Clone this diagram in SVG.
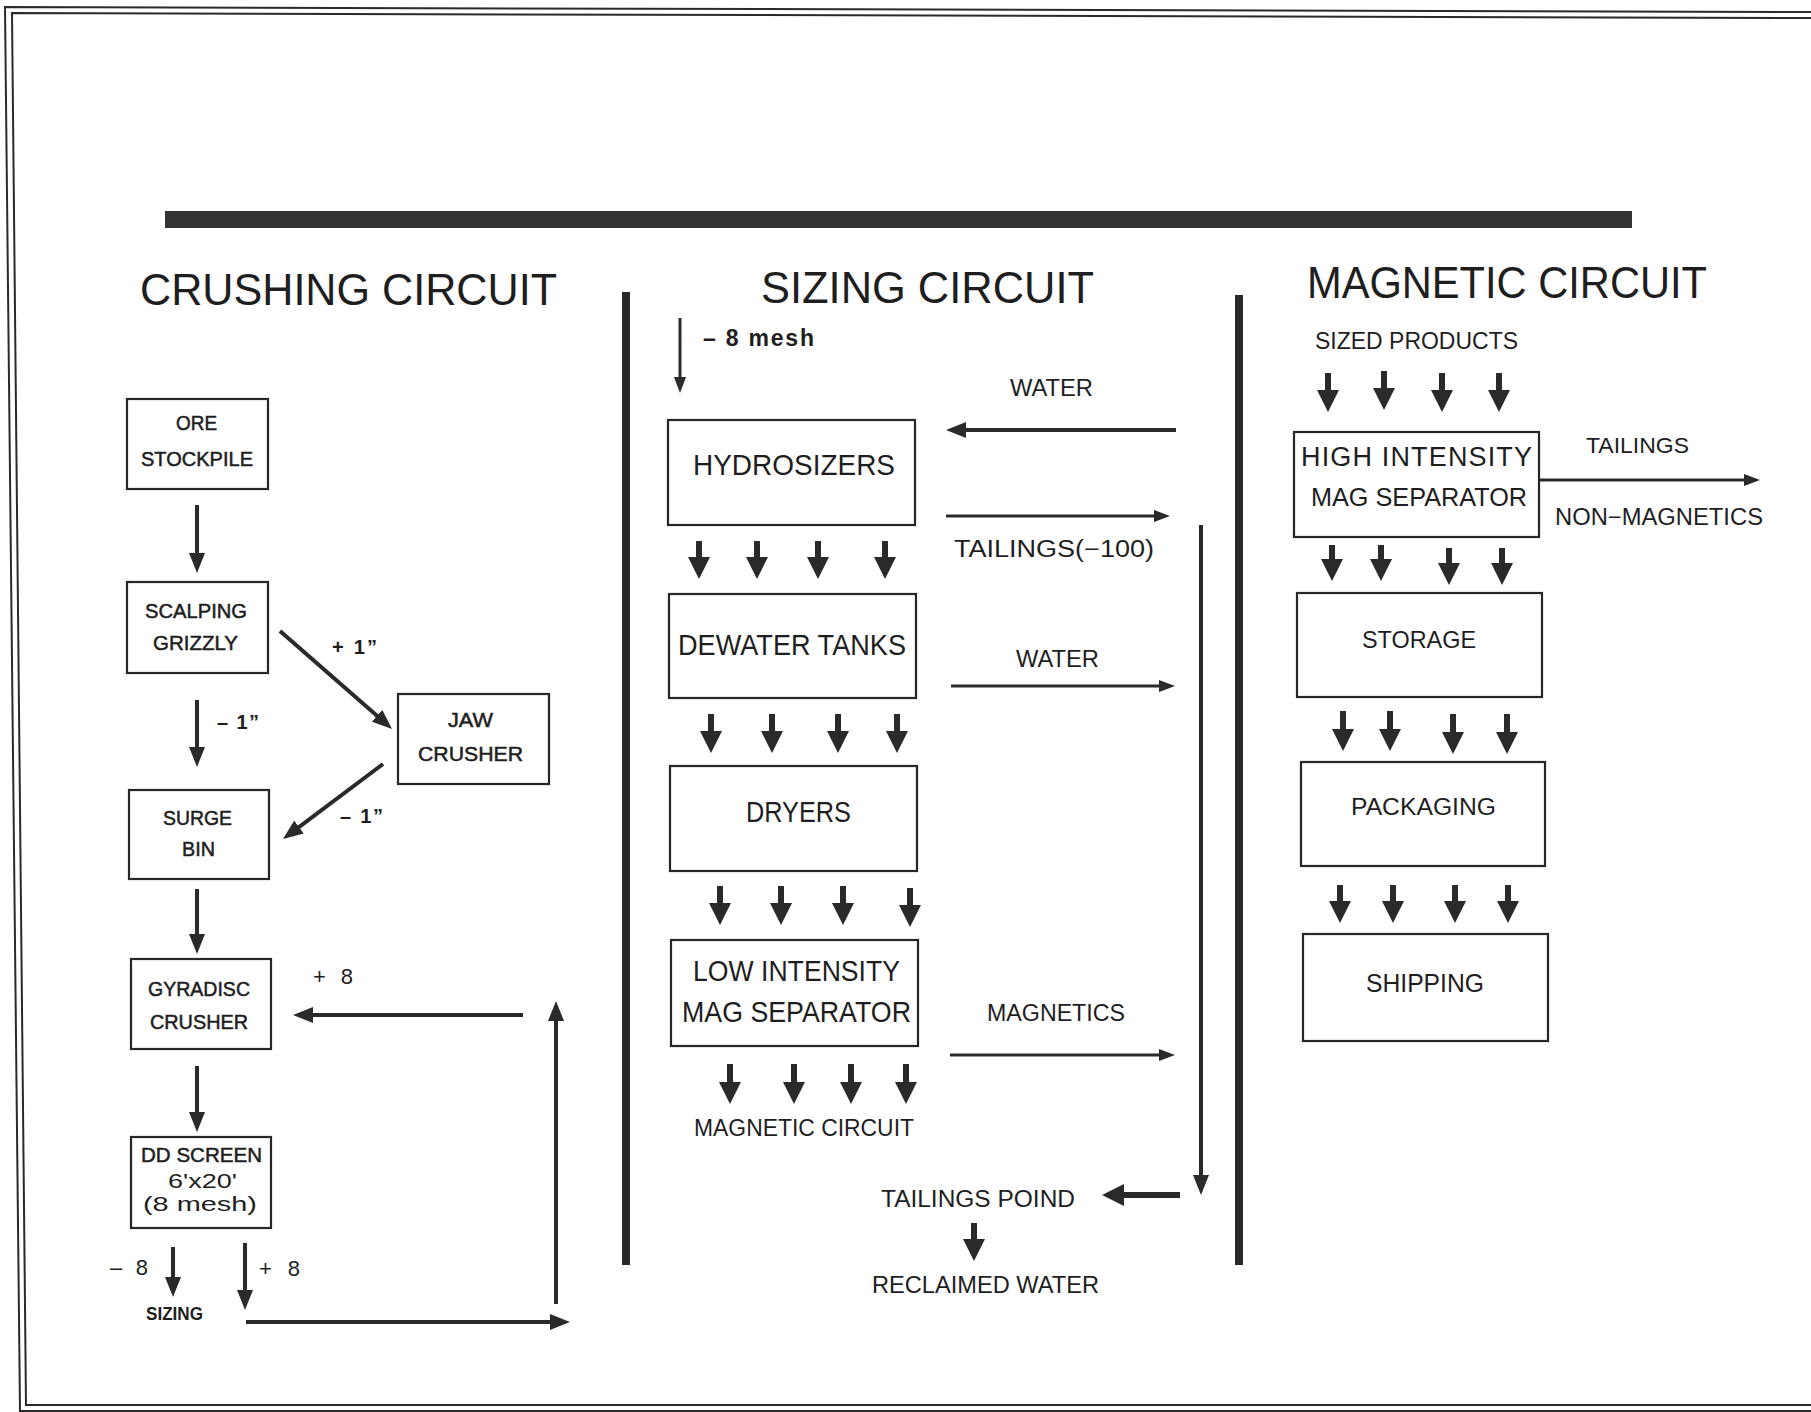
<svg xmlns="http://www.w3.org/2000/svg" width="1811" height="1412" viewBox="0 0 1811 1412">
<style>
text{font-family:"Liberation Sans",Arial,sans-serif;fill:#1e1e1e}
.ttl{font-size:44px}
.lg{font-size:29px}
.md{font-size:23px}
.sm{font-size:20px;stroke:#1e1e1e;stroke-width:0.5}
.lb{font-size:20px;font-weight:bold}
.box{fill:none;stroke:#262626;stroke-width:2.2}
.fr{fill:none;stroke:#2a2a2a;stroke-width:2}
.a{stroke:#2a2a2a;stroke-width:4;fill:none;marker-end:url(#ma)}
.t{stroke:#2a2a2a;stroke-width:3;fill:none;marker-end:url(#mt)}
.b{stroke:#2a2a2a;stroke-width:6;fill:none;marker-end:url(#mb)}
.div{stroke:#2a2a2a;stroke-width:8}
</style>
<defs>
<marker id="ma" markerUnits="userSpaceOnUse" viewBox="0 0 20 16" markerWidth="20" markerHeight="16" refX="8" refY="8" orient="auto"><path d="M0,0 L20,8 L0,16 z" fill="#2a2a2a"/></marker>
<marker id="mt" markerUnits="userSpaceOnUse" viewBox="0 0 16 12" markerWidth="16" markerHeight="12" refX="6" refY="6" orient="auto"><path d="M0,0 L16,6 L0,12 z" fill="#2a2a2a"/></marker>
<marker id="mb" markerUnits="userSpaceOnUse" viewBox="0 0 22 22" markerWidth="22" markerHeight="22" refX="8" refY="11" orient="auto"><path d="M0,0 L22,11 L0,22 z" fill="#2a2a2a"/></marker>
</defs>
<rect width="1811" height="1412" fill="#ffffff"/>
<g id="frame">
<polyline class="fr" points="1811,12 5,7 20,1411 1811,1411"/>
<polyline class="fr" points="1811,18 12,13 26,1405 1811,1405"/>
<rect x="165" y="211" width="1467" height="17" fill="#333333"/>
<line class="div" x1="626" y1="292" x2="626" y2="1265"/>
<line class="div" x1="1239" y1="295" x2="1239" y2="1265"/>
</g>
<g id="titles">
<text class="ttl" x="140" y="305" textLength="417" lengthAdjust="spacingAndGlyphs">CRUSHING  CIRCUIT</text>
<text class="ttl" x="761" y="303" textLength="333" lengthAdjust="spacingAndGlyphs">SIZING  CIRCUIT</text>
<text class="ttl" x="1307" y="298" textLength="400" lengthAdjust="spacingAndGlyphs">MAGNETIC  CIRCUIT</text>
</g>
<g id="ore-stockpile"><rect class="box" x="127" y="399" width="141" height="90"/>
<text class="sm" x="176" y="430" textLength="41" lengthAdjust="spacingAndGlyphs">ORE</text>
<text class="sm" x="141" y="466" textLength="112" lengthAdjust="spacingAndGlyphs">STOCKPILE</text></g>
<g id="scalping-grizzly"><rect class="box" x="127" y="582" width="141" height="91"/>
<text class="sm" x="145" y="618" textLength="102" lengthAdjust="spacingAndGlyphs">SCALPING</text>
<text class="sm" x="153" y="650" textLength="85" lengthAdjust="spacingAndGlyphs">GRIZZLY</text></g>
<g id="jaw-crusher"><rect class="box" x="398" y="694" width="151" height="90"/>
<text class="sm" x="448" y="727" textLength="45" lengthAdjust="spacingAndGlyphs">JAW</text>
<text class="sm" x="418" y="761" textLength="105" lengthAdjust="spacingAndGlyphs">CRUSHER</text></g>
<g id="surge-bin"><rect class="box" x="129" y="790" width="140" height="89"/>
<text class="sm" x="163" y="825" textLength="69" lengthAdjust="spacingAndGlyphs">SURGE</text>
<text class="sm" x="182" y="856" textLength="33" lengthAdjust="spacingAndGlyphs">BIN</text></g>
<g id="gyradisc-crusher"><rect class="box" x="131" y="959" width="140" height="90"/>
<text class="sm" x="148" y="996" textLength="102" lengthAdjust="spacingAndGlyphs">GYRADISC</text>
<text class="sm" x="150" y="1029" textLength="98" lengthAdjust="spacingAndGlyphs">CRUSHER</text></g>
<g id="dd-screen"><rect class="box" x="131" y="1137" width="140" height="91"/>
<text class="sm" x="141" y="1162" textLength="121" lengthAdjust="spacingAndGlyphs">DD SCREEN</text>
<text style="font-size:21px" x="168" y="1188" textLength="69" lengthAdjust="spacingAndGlyphs">6'x20'</text>
<text style="font-size:21px" x="143" y="1211" textLength="114" lengthAdjust="spacingAndGlyphs">(8 mesh)</text></g>
<g id="hydrosizers"><rect class="box" x="668" y="420" width="247" height="105"/>
<text class="lg" x="693" y="475" textLength="202" lengthAdjust="spacingAndGlyphs">HYDROSIZERS</text></g>
<g id="dewater-tanks"><rect class="box" x="669" y="594" width="247" height="104"/>
<text class="lg" x="678" y="655" textLength="228" lengthAdjust="spacingAndGlyphs">DEWATER TANKS</text></g>
<g id="dryers"><rect class="box" x="670" y="766" width="247" height="105"/>
<text class="lg" x="746" y="822" textLength="105" lengthAdjust="spacingAndGlyphs">DRYERS</text></g>
<g id="low-intensity"><rect class="box" x="671" y="940" width="247" height="106"/>
<text class="lg" x="693" y="981" textLength="207" lengthAdjust="spacingAndGlyphs">LOW INTENSITY</text>
<text class="lg" x="682" y="1022" textLength="229" lengthAdjust="spacingAndGlyphs">MAG SEPARATOR</text></g>
<g id="high-intensity"><rect class="box" x="1294" y="432" width="245" height="105"/>
<text style="font-size:27px" x="1301" y="466" textLength="231">HIGH INTENSITY</text>
<text style="font-size:26px" x="1311" y="506" textLength="216" lengthAdjust="spacingAndGlyphs">MAG SEPARATOR</text></g>
<g id="storage"><rect class="box" x="1297" y="593" width="245" height="104"/>
<text style="font-size:24px" x="1362" y="648" textLength="114" lengthAdjust="spacingAndGlyphs">STORAGE</text></g>
<g id="packaging"><rect class="box" x="1301" y="762" width="244" height="104"/>
<text style="font-size:23px" x="1351" y="815" textLength="145" lengthAdjust="spacingAndGlyphs">PACKAGING</text></g>
<g id="shipping"><rect class="box" x="1303" y="934" width="245" height="107"/>
<text style="font-size:25px" x="1366" y="992" textLength="118" lengthAdjust="spacingAndGlyphs">SHIPPING</text></g>
<g id="labels">
<text class="lb" x="332" y="654" textLength="45">+ 1”</text>
<text class="lb" x="217" y="729" textLength="42">– 1”</text>
<text class="lb" x="340" y="823" textLength="43">– 1”</text>
<text style="font-size:22px" x="313" y="984" textLength="40">+ 8</text>
<text style="font-size:22px" x="110" y="1275" textLength="38">– 8</text>
<text class="lb" style="font-size:18px" x="146" y="1320" textLength="57" lengthAdjust="spacingAndGlyphs">SIZING</text>
<text style="font-size:22px" x="259" y="1276" textLength="41">+ 8</text>
<text class="lb" style="font-size:23px" x="703" y="346" textLength="111">– 8 mesh</text>
<text class="md" x="1010" y="396" textLength="83" lengthAdjust="spacingAndGlyphs">WATER</text>
<text class="md" x="954" y="557" textLength="200" lengthAdjust="spacingAndGlyphs">TAILINGS(−100)</text>
<text class="md" x="1016" y="667" textLength="83" lengthAdjust="spacingAndGlyphs">WATER</text>
<text class="md" x="987" y="1021" textLength="138" lengthAdjust="spacingAndGlyphs">MAGNETICS</text>
<text class="md" x="694" y="1136" textLength="220" lengthAdjust="spacingAndGlyphs">MAGNETIC  CIRCUIT</text>
<text class="md" x="881" y="1207" textLength="194" lengthAdjust="spacingAndGlyphs">TAILINGS POIND</text>
<text class="md" x="872" y="1293" textLength="227" lengthAdjust="spacingAndGlyphs">RECLAIMED WATER</text>
<text style="font-size:24px" x="1315" y="349" textLength="203" lengthAdjust="spacingAndGlyphs">SIZED PRODUCTS</text>
<text style="font-size:22px" x="1586" y="453" textLength="103" lengthAdjust="spacingAndGlyphs">TAILINGS</text>
<text style="font-size:23px" x="1555" y="525" textLength="208" lengthAdjust="spacingAndGlyphs">NON−MAGNETICS</text>
</g>
<g id="connectors">
<line class="a" x1="197" y1="505" x2="197" y2="561"/>
<line class="a" x1="280" y1="631" x2="383" y2="721"/>
<line class="a" x1="197" y1="700" x2="197" y2="755"/>
<line class="a" x1="383" y1="764" x2="292.6" y2="831.8"/>
<line class="a" x1="197" y1="889" x2="197" y2="942"/>
<line class="a" x1="197" y1="1066" x2="197" y2="1120"/>
<line class="a" x1="523" y1="1015" x2="305" y2="1015"/>
<line class="a" x1="556" y1="1304" x2="556" y2="1013"/>
<line class="a" x1="173" y1="1247" x2="173" y2="1285"/>
<line class="a" x1="245" y1="1243" x2="245" y2="1298"/>
<line class="a" x1="246" y1="1322" x2="558" y2="1322"/>
<line class="t" x1="680" y1="318" x2="680" y2="383"/>
<line class="a" x1="1176" y1="430" x2="958" y2="430"/>
<line class="t" x1="946" y1="516" x2="1160" y2="516"/>
<line class="t" x1="951" y1="686" x2="1165" y2="686"/>
<line class="t" x1="950" y1="1055" x2="1165" y2="1055"/>
<line class="a" x1="1201" y1="525" x2="1201" y2="1183"/>
<line class="b" x1="1180" y1="1195" x2="1116" y2="1195"/>
<line class="b" x1="974" y1="1223" x2="974" y2="1247"/>
<line class="t" x1="1539" y1="480" x2="1750" y2="480"/>
<line class="b" x1="699" y1="541" x2="699" y2="565"/>
<line class="b" x1="757" y1="541" x2="757" y2="565"/>
<line class="b" x1="818" y1="541" x2="818" y2="565"/>
<line class="b" x1="885" y1="541" x2="885" y2="565"/>
<line class="b" x1="711" y1="714" x2="711" y2="739"/>
<line class="b" x1="772" y1="714" x2="772" y2="739"/>
<line class="b" x1="838" y1="714" x2="838" y2="739"/>
<line class="b" x1="897" y1="714" x2="897" y2="739"/>
<line class="b" x1="720" y1="886" x2="720" y2="911"/>
<line class="b" x1="781" y1="886" x2="781" y2="911"/>
<line class="b" x1="843" y1="886" x2="843" y2="911"/>
<line class="b" x1="910" y1="888" x2="910" y2="913"/>
<line class="b" x1="730" y1="1064" x2="730" y2="1090"/>
<line class="b" x1="794" y1="1064" x2="794" y2="1090"/>
<line class="b" x1="851" y1="1064" x2="851" y2="1090"/>
<line class="b" x1="906" y1="1064" x2="906" y2="1090"/>
<line class="b" x1="1328" y1="373" x2="1328" y2="398"/>
<line class="b" x1="1384" y1="371" x2="1384" y2="396"/>
<line class="b" x1="1442" y1="373" x2="1442" y2="398"/>
<line class="b" x1="1499" y1="373" x2="1499" y2="398"/>
<line class="b" x1="1332" y1="545" x2="1332" y2="567"/>
<line class="b" x1="1381" y1="545" x2="1381" y2="567"/>
<line class="b" x1="1449" y1="548" x2="1449" y2="571"/>
<line class="b" x1="1502" y1="548" x2="1502" y2="571"/>
<line class="b" x1="1343" y1="711" x2="1343" y2="737"/>
<line class="b" x1="1390" y1="711" x2="1390" y2="737"/>
<line class="b" x1="1453" y1="714" x2="1453" y2="740"/>
<line class="b" x1="1507" y1="714" x2="1507" y2="740"/>
<line class="b" x1="1340" y1="885" x2="1340" y2="909"/>
<line class="b" x1="1393" y1="885" x2="1393" y2="909"/>
<line class="b" x1="1455" y1="885" x2="1455" y2="909"/>
<line class="b" x1="1508" y1="885" x2="1508" y2="909"/>
</g>
</svg>
